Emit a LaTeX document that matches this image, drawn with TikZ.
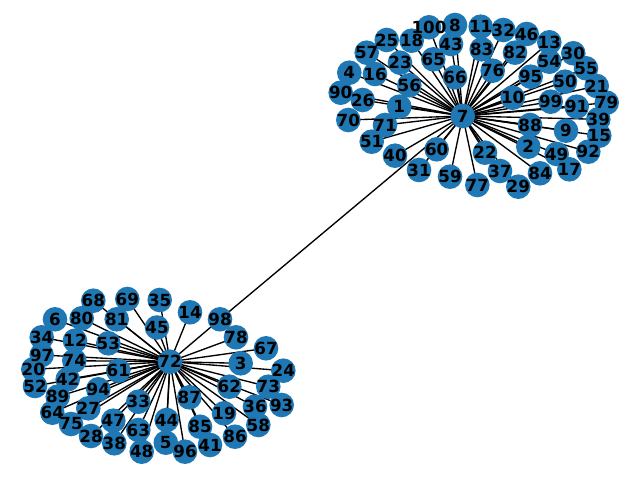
\documentclass[tikz,border=0pt]{standalone}
\usepackage{fontspec}
\newfontfamily\lblfont{DejaVu Sans}
\pgfdeclarelayer{background}
\pgfsetlayers{background,main}
\definecolor{nodeblue}{HTML}{1F77B4}
\tikzset{
    vtx/.style={circle, fill=nodeblue, minimum size=24.6pt, inner sep=0pt},
    lbl/.style={inner sep=0pt, font=\lblfont\bfseries\fontsize{16.7}{16.7}\selectfont},
    edge/.style={line width=1.35pt, black}
}
% star around node 7
\def\topnodes{1/399.3/106.7, 2/528.3/146.7, 4/349.3/72.7, 8/455/25, 9/566/130.7,
    10/512.7/97.7, 11/480.7/26.7, 13/549.3/42.3, 15/599.3/135.7, 16/375/74,
    17/569.3/169.3, 18/411.7/40.7, 21/596.7/86, 22/485/152.7, 23/400/62.7,
    25/386.7/40, 26/362.7/100, 29/518.3/186.7, 30/573.3/53.3, 31/419/170,
    32/503.3/30, 37/500/171, 39/598.3/119.3, 40/395/155.7, 43/451/44,
    46/526.7/34, 49/556.7/154, 50/565/81.7, 51/371.7/141.7, 54/549.3/61.7,
    55/586/68.3, 56/409.3/85.3, 57/366.7/52.7, 59/450/176.7, 60/436.7/149.3,
    65/433.3/59.3, 66/455/77.3, 70/348.3/120, 71/385/125, 76/492.7/70.7,
    77/477.3/185, 79/606.7/102.7, 82/515/52.7, 83/481.7/49.3, 84/540/173.3,
    88/530/125, 90/340.7/92.7, 91/576.7/106.7, 92/588.3/151.7, 95/530.7/76.7,
    99/550.7/101.7, 100/429/27.3}
% star around node 72
\def\botnodes{3/240.7/363.3, 5/165.8/442.7, 6/55/319.3, 12/75/340.7, 14/190/312.3,
    19/224/413.3, 20/33.3/369.3, 24/283.3/370.7, 27/88.3/408.3, 28/91/436,
    33/138.3/401.7, 34/41.7/337.3, 35/159.7/300, 36/255/406.7, 38/114.3/443.3,
    41/210/445, 42/67.7/379.3, 44/166.7/420, 45/157/327.5, 47/113.3/420.7,
    48/141.7/451.7, 52/35/386, 53/108.3/343.3, 58/258.3/425, 61/118.3/370.7,
    62/229.3/386.7, 63/138.3/430, 64/52.3/412.7, 67/266/348.3, 68/93.3/300.7,
    69/127.3/299, 73/268.3/386.7, 74/74.3/360.7, 75/71/424, 78/236/337.3,
    80/81.7/318.3, 81/116.7/319.3, 85/200/426.7, 86/235/436.7, 87/189.3/397.3,
    89/57.7/396.7, 93/281.7/405, 94/98.3/389.3, 96/185/451.7, 97/41.7/355,
    98/220/319.3}
\begin{document}
\begin{tikzpicture}[x=1pt,y=-1pt]
    \useasboundingbox (0,0) rectangle (640,478);
    % hubs
    \node[vtx] (n7) at (462.7,116) {};
    \node[vtx] (n72) at (170,361.7) {};
    % leaves
    \foreach \n/\x/\y in \topnodes {
        \node[vtx] (n\n) at (\x,\y) {};
    }
    \foreach \n/\x/\y in \botnodes {
        \node[vtx] (n\n) at (\x,\y) {};
    }
    % edges
    \begin{pgfonlayer}{background}
        \foreach \n/\x/\y in \topnodes {
            \draw[edge] (n7.center) -- (n\n.center);
        }
        \foreach \n/\x/\y in \botnodes {
            \draw[edge] (n72.center) -- (n\n.center);
        }
        \draw[edge] (n98.center) -- (n7.center);
    \end{pgfonlayer}
    % labels
    \node[lbl] at (n7) {7};
    \node[lbl] at (n72) {72};
    \foreach \n/\x/\y in \topnodes {
        \node[lbl] at (n\n) {\n};
    }
    \foreach \n/\x/\y in \botnodes {
        \node[lbl] at (n\n) {\n};
    }
\end{tikzpicture}
\end{document}
